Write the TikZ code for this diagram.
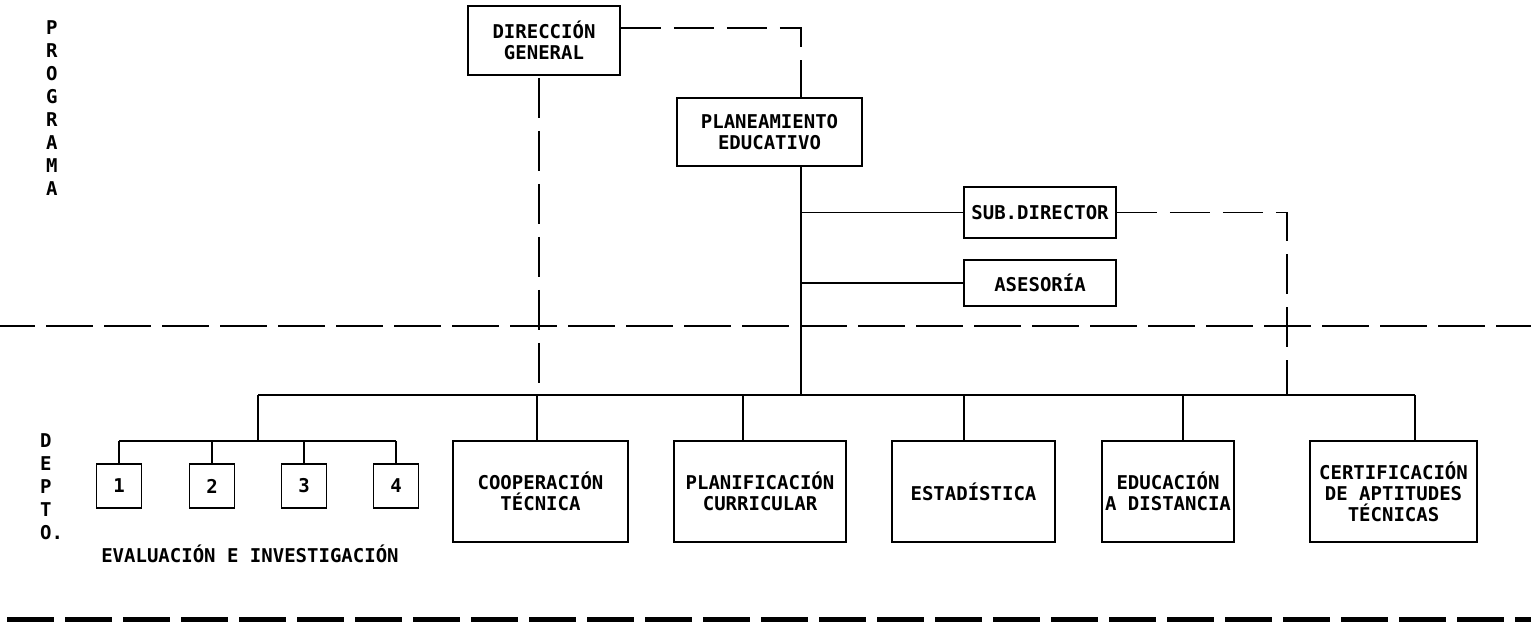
\documentclass[tikz,border=0pt]{standalone}
\usepackage{fontspec}
\newfontfamily\plotfont{DejaVu Sans Mono}
\begin{document}
\begin{tikzpicture}[x=1pt,y=-1pt,
  lbl/.style={font=\plotfont\bfseries\fontsize{19}{21}\selectfont, inner sep=0pt},
  orgbox/.style={lbl, draw, line width=1.8pt, align=center},
  wire/.style={line width=1.8pt},
  dashline/.style={line width=1.8pt, dash pattern=on 40pt off 13pt},
  sepline/.style={line width=2pt, dash pattern=on 47pt off 11pt}]
\useasboundingbox (0,0) rectangle (1531,622);

% upper level
\node[orgbox, minimum width=152pt, minimum height=69pt] (DG) at (544,40.5) {DIRECCIÓN\\GENERAL};
\node[orgbox, minimum width=185pt, minimum height=68pt] (PE) at (769.5,132) {PLANEAMIENTO\\EDUCATIVO};
\node[orgbox, minimum width=152pt, minimum height=51pt] (SD) at (1040,212.5) {SUB.DIRECTOR};
\node[orgbox, minimum width=152pt, minimum height=46pt] (AS) at (1040,283) {ASESORÍA};

% departments
\foreach \n/\x in {1/119,2/212,3/304,4/396}
  \node[orgbox, minimum width=45pt, minimum height=44pt] (E\n) at (\x,486) {\n};
\node[orgbox, minimum width=175pt, minimum height=101pt] (CT) at (540.5,491.5) {COOPERACIÓN\\TÉCNICA};
\node[orgbox, minimum width=172pt, minimum height=101pt] (PC) at (760,491.5) {PLANIFICACIÓN\\CURRICULAR};
\node[orgbox, minimum width=163pt, minimum height=101pt] (ES) at (973.5,491.5) {ESTADÍSTICA};
\node[orgbox, minimum width=132pt, minimum height=101pt] (ED) at (1168,491.5) {EDUCACIÓN\\A DISTANCIA};
\node[orgbox, minimum width=167pt, minimum height=101pt] (CA) at (1393.5,491.5) {CERTIFICACIÓN\\DE APTITUDES\\TÉCNICAS};

% side labels
\node[lbl, align=left, anchor=west, font=\plotfont\bfseries\fontsize{19}{23}\selectfont] (prog) at (46,108.5) {P\\R\\O\\G\\R\\A\\M\\A};
\node[lbl, align=left, anchor=west, font=\plotfont\bfseries\fontsize{19}{23}\selectfont] (depto) at (40,486.5) {D\\E\\P\\T\\O.};
\node[lbl] (evi) at (250,554) {EVALUACIÓN E INVESTIGACIÓN};

% reference points of the tree
\coordinate (tk) at (801,0);
\coordinate (dgx) at (539,0);
\coordinate (bus) at (0,395);
\coordinate (busl) at (258,395);
\coordinate (busr) at (1415,395);
\coordinate (sdb) at (1287,395);
\coordinate (sub) at (0,441);
\coordinate (evx) at (258,441);

% level separators
\draw[sepline, dash phase=12pt] (0,326) -- (1531,326);
\draw[sepline, line width=5pt] (7,619) -- (1531,619);

% links
\draw[dashline] ([yshift=-23pt]DG.north east) -| (PE.north -| tk);
\draw[wire] (PE.south -| tk) -- (bus -| tk);
\draw[wire] (SD.west) -- (SD.west -| tk);
\draw[wire] (AS.west) -- (AS.west -| tk);
\draw[dashline] (SD.east) -| (sdb);
\draw[dashline, dash phase=-2pt] (DG.south -| dgx) -- (bus -| dgx);
\draw[wire] (busl) -- (busr);

% branches down to the departments
\draw[wire] (busl) -- (evx);
\draw[wire] (sub -| E1) -- (sub -| E4);
\foreach \n in {1,...,4} \draw[wire] (sub -| E\n) -- (E\n.north);
\draw[wire] (bus -| 537,0) -- (CT.north -| 537,0);
\draw[wire] (bus -| 743,0) -- (PC.north -| 743,0);
\draw[wire] (bus -| 964,0) -- (ES.north -| 964,0);
\draw[wire] (bus -| 1183,0) -- (ED.north -| 1183,0);
\draw[wire] (busr) -- (CA.north -| busr);
\end{tikzpicture}
\end{document}
